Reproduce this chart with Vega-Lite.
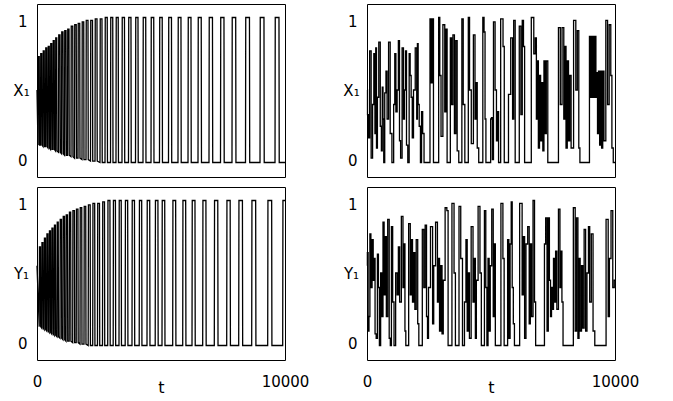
{
"$schema": "https://vega.github.io/schema/vega-lite/v6.json",
"background": "white",
"padding": {"left": 12, "top": 3, "right": 5, "bottom": 5},
"datasets": {
"xl": [{"t":0,"v":50},
{"t":40,"v":12},{"t":50,"v":73},{"t":90,"v":73},{"t":100,"v":12},
{"t":141,"v":12},{"t":151,"v":75},{"t":191,"v":75},{"t":201,"v":12},
{"t":242,"v":11},{"t":252,"v":77},{"t":292,"v":77},{"t":302,"v":11},
{"t":343,"v":11},{"t":353,"v":79},{"t":393,"v":79},{"t":403,"v":11},
{"t":444,"v":10},{"t":454,"v":80},{"t":494,"v":80},{"t":504,"v":10},
{"t":544,"v":9},{"t":554,"v":82},{"t":594,"v":82},{"t":604,"v":9},
{"t":645,"v":9},{"t":655,"v":84},{"t":695,"v":84},{"t":705,"v":9},
{"t":746,"v":8},{"t":756,"v":86},{"t":796,"v":86},{"t":806,"v":8},
{"t":867,"v":7},{"t":877,"v":88},{"t":927,"v":88},{"t":937,"v":7},
{"t":988,"v":6},{"t":998,"v":90},{"t":1048,"v":90},{"t":1058,"v":6},
{"t":1109,"v":5},{"t":1119,"v":91},{"t":1169,"v":91},{"t":1179,"v":5},
{"t":1230,"v":5},{"t":1240,"v":92},{"t":1290,"v":92},{"t":1300,"v":5},
{"t":1371,"v":4},{"t":1381,"v":94},{"t":1441,"v":94},{"t":1451,"v":4},
{"t":1512,"v":3},{"t":1522,"v":95},{"t":1582,"v":95},{"t":1592,"v":3},
{"t":1653,"v":3},{"t":1663,"v":96},{"t":1723,"v":96},{"t":1733,"v":3},
{"t":1814,"v":2},{"t":1824,"v":97},{"t":1884,"v":97},{"t":1894,"v":2},
{"t":1976,"v":2},{"t":1986,"v":98},{"t":2056,"v":98},{"t":2066,"v":2},
{"t":2157,"v":1},{"t":2167,"v":98},{"t":2237,"v":98},{"t":2247,"v":1},
{"t":2339,"v":1},{"t":2349,"v":99},{"t":2419,"v":99},{"t":2429,"v":1},
{"t":2540,"v":0},{"t":2550,"v":99},{"t":2620,"v":99},{"t":2630,"v":0},
{"t":2742,"v":0},{"t":2752,"v":100},{"t":2832,"v":100},{"t":2842,"v":0},
{"t":2964,"v":0},{"t":2974,"v":100},{"t":3054,"v":100},{"t":3064,"v":0},
{"t":3185,"v":0},{"t":3195,"v":100},{"t":3275,"v":100},{"t":3285,"v":0},
{"t":3427,"v":0},{"t":3437,"v":100},{"t":3527,"v":100},{"t":3537,"v":0},
{"t":3689,"v":0},{"t":3699,"v":100},{"t":3789,"v":100},{"t":3799,"v":0},
{"t":3972,"v":0},{"t":3982,"v":100},{"t":4072,"v":100},{"t":4082,"v":0},
{"t":4274,"v":0},{"t":4284,"v":100},{"t":4384,"v":100},{"t":4394,"v":0},
{"t":4597,"v":0},{"t":4607,"v":100},{"t":4707,"v":100},{"t":4717,"v":0},
{"t":4939,"v":0},{"t":4949,"v":100},{"t":5049,"v":100},{"t":5059,"v":0},
{"t":5302,"v":0},{"t":5312,"v":100},{"t":5422,"v":100},{"t":5432,"v":0},
{"t":5685,"v":0},{"t":5695,"v":100},{"t":5805,"v":100},{"t":5815,"v":0},
{"t":6089,"v":0},{"t":6099,"v":100},{"t":6209,"v":100},{"t":6219,"v":0},
{"t":6492,"v":0},{"t":6502,"v":100},{"t":6622,"v":100},{"t":6632,"v":0},
{"t":6935,"v":0},{"t":6945,"v":100},{"t":7075,"v":100},{"t":7085,"v":0},
{"t":7399,"v":0},{"t":7409,"v":100},{"t":7539,"v":100},{"t":7549,"v":0},
{"t":7862,"v":0},{"t":7872,"v":100},{"t":8012,"v":100},{"t":8022,"v":0},
{"t":8407,"v":0},{"t":8417,"v":100},{"t":8567,"v":100},{"t":8577,"v":0},
{"t":8992,"v":0},{"t":9002,"v":100},{"t":9152,"v":100},{"t":9162,"v":0},
{"t":9597,"v":0},{"t":9607,"v":100},{"t":9757,"v":100},{"t":9767,"v":0},
{"t":10000,"v":0}],
"yl": [{"t":0,"v":55},
{"t":89,"v":13},{"t":99,"v":68},{"t":139,"v":68},{"t":149,"v":13},
{"t":190,"v":12},{"t":200,"v":71},{"t":240,"v":71},{"t":250,"v":12},
{"t":290,"v":11},{"t":300,"v":74},{"t":340,"v":74},{"t":350,"v":11},
{"t":391,"v":10},{"t":401,"v":77},{"t":441,"v":77},{"t":451,"v":10},
{"t":492,"v":9},{"t":502,"v":79},{"t":542,"v":79},{"t":552,"v":9},
{"t":593,"v":8},{"t":603,"v":81},{"t":643,"v":81},{"t":653,"v":8},
{"t":694,"v":7},{"t":704,"v":83},{"t":744,"v":83},{"t":754,"v":7},
{"t":806,"v":6},{"t":816,"v":85},{"t":856,"v":85},{"t":866,"v":6},
{"t":927,"v":5},{"t":937,"v":87},{"t":987,"v":87},{"t":997,"v":5},
{"t":1048,"v":4},{"t":1058,"v":89},{"t":1108,"v":89},{"t":1118,"v":4},
{"t":1169,"v":3},{"t":1179,"v":90},{"t":1229,"v":90},{"t":1239,"v":3},
{"t":1298,"v":3},{"t":1308,"v":92},{"t":1358,"v":92},{"t":1368,"v":3},
{"t":1439,"v":2},{"t":1449,"v":93},{"t":1509,"v":93},{"t":1519,"v":2},
{"t":1581,"v":2},{"t":1591,"v":94},{"t":1651,"v":94},{"t":1661,"v":2},
{"t":1734,"v":1},{"t":1744,"v":95},{"t":1804,"v":95},{"t":1814,"v":1},
{"t":1895,"v":1},{"t":1905,"v":96},{"t":1965,"v":96},{"t":1975,"v":1},
{"t":2064,"v":0},{"t":2074,"v":97},{"t":2144,"v":97},{"t":2154,"v":0},
{"t":2246,"v":0},{"t":2256,"v":98},{"t":2326,"v":98},{"t":2336,"v":0},
{"t":2439,"v":0},{"t":2449,"v":98},{"t":2519,"v":98},{"t":2529,"v":0},
{"t":2641,"v":0},{"t":2651,"v":99},{"t":2721,"v":99},{"t":2731,"v":0},
{"t":2851,"v":0},{"t":2861,"v":100},{"t":2941,"v":100},{"t":2951,"v":0},
{"t":3072,"v":0},{"t":3082,"v":100},{"t":3162,"v":100},{"t":3172,"v":0},
{"t":3306,"v":0},{"t":3316,"v":100},{"t":3396,"v":100},{"t":3406,"v":0},
{"t":3556,"v":0},{"t":3566,"v":100},{"t":3656,"v":100},{"t":3666,"v":0},
{"t":3830,"v":0},{"t":3840,"v":100},{"t":3930,"v":100},{"t":3940,"v":0},
{"t":4121,"v":0},{"t":4131,"v":100},{"t":4221,"v":100},{"t":4231,"v":0},
{"t":4435,"v":0},{"t":4445,"v":100},{"t":4545,"v":100},{"t":4555,"v":0},
{"t":4766,"v":0},{"t":4776,"v":100},{"t":4876,"v":100},{"t":4886,"v":0},
{"t":5040,"v":0},{"t":5050,"v":100},{"t":5150,"v":100},{"t":5160,"v":0},
{"t":5471,"v":0},{"t":5481,"v":100},{"t":5591,"v":100},{"t":5601,"v":0},
{"t":5875,"v":0},{"t":5885,"v":100},{"t":5995,"v":100},{"t":6005,"v":0},
{"t":6250,"v":0},{"t":6260,"v":100},{"t":6370,"v":100},{"t":6380,"v":0},
{"t":6681,"v":0},{"t":6691,"v":100},{"t":6811,"v":100},{"t":6821,"v":0},
{"t":7149,"v":0},{"t":7159,"v":100},{"t":7289,"v":100},{"t":7299,"v":0},
{"t":7649,"v":0},{"t":7659,"v":100},{"t":7789,"v":100},{"t":7799,"v":0},
{"t":8133,"v":0},{"t":8143,"v":100},{"t":8283,"v":100},{"t":8293,"v":0},
{"t":8657,"v":0},{"t":8667,"v":100},{"t":8817,"v":100},{"t":8827,"v":0},
{"t":9302,"v":0},{"t":9312,"v":100},{"t":9462,"v":100},{"t":9472,"v":0},
{"t":9907,"v":0},{"t":9917,"v":100},{"t":10000,"v":100}],
"xr": [{"t":0,"v":50},{"t":40,"v":33},{"t":80,"v":17},{"t":134,"v":77},{"t":200,"v":3},{"t":250,"v":40},{"t":300,"v":75},{"t":340,"v":20},{"t":365,"v":79},{"t":400,"v":10},{"t":440,"v":45},{"t":510,"v":83},{"t":560,"v":25},{"t":600,"v":8},{"t":630,"v":52},{"t":660,"v":30},{"t":690,"v":0},{"t":740,"v":48},{"t":790,"v":63},{"t":830,"v":30},{"t":910,"v":83},{"t":960,"v":20},{"t":1050,"v":0},{"t":1100,"v":40},{"t":1140,"v":75},{"t":1190,"v":35},{"t":1240,"v":50},{"t":1290,"v":84},{"t":1330,"v":15},{"t":1380,"v":3},{"t":1450,"v":79},{"t":1490,"v":30},{"t":1530,"v":50},{"t":1575,"v":77},{"t":1610,"v":12},{"t":1680,"v":0},{"t":1720,"v":75},{"t":1760,"v":60},{"t":1800,"v":45},{"t":1850,"v":17},{"t":1900,"v":50},{"t":1990,"v":79},{"t":2020,"v":30},{"t":2045,"v":82},{"t":2080,"v":40},{"t":2130,"v":25},{"t":2180,"v":0},{"t":2220,"v":35},{"t":2270,"v":20},{"t":2330,"v":0},{"t":2520,"v":0},{"t":2560,"v":99},{"t":2620,"v":55},{"t":2660,"v":99},{"t":2700,"v":0},{"t":2870,"v":0},{"t":2910,"v":100},{"t":2960,"v":60},{"t":3010,"v":18},{"t":3110,"v":95},{"t":3160,"v":35},{"t":3200,"v":92},{"t":3260,"v":0},{"t":3330,"v":0},{"t":3390,"v":86},{"t":3430,"v":40},{"t":3500,"v":88},{"t":3550,"v":20},{"t":3610,"v":84},{"t":3660,"v":8},{"t":3740,"v":0},{"t":3800,"v":0},{"t":3850,"v":99},{"t":3910,"v":40},{"t":3980,"v":0},{"t":4060,"v":0},{"t":4110,"v":100},{"t":4160,"v":50},{"t":4250,"v":13},{"t":4330,"v":88},{"t":4380,"v":30},{"t":4420,"v":55},{"t":4470,"v":10},{"t":4540,"v":0},{"t":4640,"v":0},{"t":4700,"v":100},{"t":4740,"v":90},{"t":4780,"v":30},{"t":4810,"v":0},{"t":4970,"v":0},{"t":5000,"v":30},{"t":5040,"v":31},{"t":5070,"v":2},{"t":5130,"v":97},{"t":5200,"v":50},{"t":5240,"v":15},{"t":5280,"v":35},{"t":5330,"v":0},{"t":5450,"v":99},{"t":5520,"v":80},{"t":5550,"v":0},{"t":5670,"v":0},{"t":5740,"v":47},{"t":5850,"v":86},{"t":5890,"v":30},{"t":5940,"v":98},{"t":6010,"v":0},{"t":6100,"v":0},{"t":6180,"v":94},{"t":6230,"v":33},{"t":6290,"v":98},{"t":6330,"v":80},{"t":6380,"v":0},{"t":6560,"v":0},{"t":6690,"v":100},{"t":6760,"v":75},{"t":6810,"v":86},{"t":6850,"v":30},{"t":6890,"v":70},{"t":6930,"v":10},{"t":6980,"v":60},{"t":7020,"v":15},{"t":7070,"v":55},{"t":7110,"v":8},{"t":7160,"v":70},{"t":7200,"v":20},{"t":7260,"v":70},{"t":7320,"v":0},{"t":7670,"v":0},{"t":7770,"v":93},{"t":7820,"v":40},{"t":7910,"v":93},{"t":7960,"v":30},{"t":8000,"v":80},{"t":8050,"v":10},{"t":8100,"v":70},{"t":8150,"v":15},{"t":8200,"v":60},{"t":8260,"v":10},{"t":8400,"v":98},{"t":8440,"v":50},{"t":8520,"v":91},{"t":8560,"v":10},{"t":8610,"v":0},{"t":8940,"v":0},{"t":9000,"v":87},{"t":9040,"v":45},{"t":9080,"v":87},{"t":9120,"v":45},{"t":9160,"v":87},{"t":9200,"v":45},{"t":9220,"v":87},{"t":9240,"v":45},{"t":9280,"v":62},{"t":9310,"v":20},{"t":9360,"v":63},{"t":9400,"v":12},{"t":9440,"v":63},{"t":9480,"v":10},{"t":9530,"v":63},{"t":9580,"v":15},{"t":9680,"v":98},{"t":9720,"v":40},{"t":9810,"v":95},{"t":9850,"v":60},{"t":9900,"v":10},{"t":9960,"v":0},{"t":10000,"v":0}],
"yr": [{"t":0,"v":55},{"t":30,"v":64},{"t":60,"v":10},{"t":100,"v":20},{"t":134,"v":77},{"t":180,"v":40},{"t":230,"v":73},{"t":270,"v":45},{"t":310,"v":60},{"t":340,"v":8},{"t":400,"v":5},{"t":440,"v":63},{"t":480,"v":40},{"t":520,"v":0},{"t":580,"v":50},{"t":620,"v":20},{"t":670,"v":85},{"t":710,"v":35},{"t":760,"v":75},{"t":800,"v":20},{"t":870,"v":87},{"t":920,"v":5},{"t":960,"v":0},{"t":1010,"v":82},{"t":1060,"v":30},{"t":1120,"v":0},{"t":1190,"v":50},{"t":1240,"v":35},{"t":1290,"v":68},{"t":1340,"v":30},{"t":1430,"v":89},{"t":1470,"v":40},{"t":1510,"v":70},{"t":1550,"v":10},{"t":1580,"v":0},{"t":1640,"v":0},{"t":1720,"v":84},{"t":1770,"v":35},{"t":1810,"v":73},{"t":1860,"v":30},{"t":1910,"v":64},{"t":1950,"v":25},{"t":2020,"v":73},{"t":2070,"v":15},{"t":2110,"v":0},{"t":2190,"v":0},{"t":2270,"v":80},{"t":2310,"v":40},{"t":2380,"v":83},{"t":2420,"v":20},{"t":2460,"v":5},{"t":2500,"v":40},{"t":2620,"v":82},{"t":2670,"v":15},{"t":2710,"v":55},{"t":2820,"v":85},{"t":2860,"v":30},{"t":2900,"v":60},{"t":2950,"v":10},{"t":3000,"v":55},{"t":3050,"v":8},{"t":3100,"v":45},{"t":3200,"v":95},{"t":3240,"v":93},{"t":3300,"v":0},{"t":3360,"v":0},{"t":3490,"v":98},{"t":3530,"v":50},{"t":3600,"v":0},{"t":3660,"v":0},{"t":3760,"v":96},{"t":3800,"v":60},{"t":3900,"v":0},{"t":3960,"v":30},{"t":4020,"v":73},{"t":4060,"v":10},{"t":4110,"v":50},{"t":4150,"v":5},{"t":4250,"v":82},{"t":4300,"v":30},{"t":4350,"v":60},{"t":4390,"v":5},{"t":4430,"v":45},{"t":4530,"v":96},{"t":4580,"v":50},{"t":4640,"v":0},{"t":4700,"v":0},{"t":4770,"v":93},{"t":4810,"v":40},{"t":4860,"v":0},{"t":4900,"v":60},{"t":4950,"v":10},{"t":4990,"v":55},{"t":5070,"v":94},{"t":5110,"v":20},{"t":5150,"v":70},{"t":5200,"v":0},{"t":5340,"v":0},{"t":5460,"v":98},{"t":5500,"v":60},{"t":5560,"v":0},{"t":5640,"v":0},{"t":5700,"v":73},{"t":5740,"v":5},{"t":5800,"v":70},{"t":5830,"v":99},{"t":5880,"v":40},{"t":5920,"v":15},{"t":5970,"v":0},{"t":6080,"v":0},{"t":6230,"v":98},{"t":6280,"v":35},{"t":6330,"v":75},{"t":6380,"v":5},{"t":6440,"v":70},{"t":6520,"v":82},{"t":6560,"v":15},{"t":6610,"v":70},{"t":6660,"v":20},{"t":6730,"v":100},{"t":6780,"v":30},{"t":6820,"v":0},{"t":7130,"v":0},{"t":7180,"v":70},{"t":7230,"v":88},{"t":7290,"v":10},{"t":7330,"v":88},{"t":7380,"v":45},{"t":7420,"v":20},{"t":7460,"v":40},{"t":7500,"v":25},{"t":7540,"v":60},{"t":7580,"v":30},{"t":7630,"v":65},{"t":7680,"v":25},{"t":7760,"v":94},{"t":7800,"v":40},{"t":7840,"v":65},{"t":7880,"v":30},{"t":7930,"v":0},{"t":8270,"v":0},{"t":8370,"v":95},{"t":8420,"v":10},{"t":8480,"v":88},{"t":8530,"v":5},{"t":8570,"v":60},{"t":8620,"v":10},{"t":8680,"v":55},{"t":8720,"v":12},{"t":8790,"v":80},{"t":8840,"v":10},{"t":8900,"v":50},{"t":8960,"v":82},{"t":9000,"v":30},{"t":9090,"v":77},{"t":9140,"v":10},{"t":9230,"v":0},{"t":9580,"v":0},{"t":9700,"v":87},{"t":9750,"v":20},{"t":9800,"v":60},{"t":9880,"v":93},{"t":9940,"v":40},{"t":10000,"v":45}]
},
"columns": 2,
"spacing": {"row": 10, "column": 82},
"bounds": "flush",
"concat": [
{"width": 248, "height": 173, "data": {"name": "xl"},
 "mark": {"type": "line", "color": "black", "strokeWidth": 1.3},
 "encoding": {
  "x": {"field": "t", "type": "quantitative", "scale": {"domain": [0, 10000], "nice": false, "zero": false}, "axis": null},
  "y": {"field": "v", "type": "quantitative", "scale": {"domain": [-10, 109.3], "nice": false, "zero": false}, "axis": {"title": "X₁", "values": [1.7, 97.2], "labelExpr": "datum.value < 50 ? '0' : '1'"}}}},
{"width": 248, "height": 173, "data": {"name": "xr"},
 "mark": {"type": "line", "color": "black", "strokeWidth": 1.3, "interpolate": "step"},
 "encoding": {
  "x": {"field": "t", "type": "quantitative", "scale": {"domain": [0, 10000], "nice": false, "zero": false}, "axis": null},
  "y": {"field": "v", "type": "quantitative", "scale": {"domain": [-10, 109.3], "nice": false, "zero": false}, "axis": {"title": "X₁", "values": [1.7, 97.2], "labelExpr": "datum.value < 50 ? '0' : '1'"}}}},
{"width": 248, "height": 173, "data": {"name": "yl"},
 "mark": {"type": "line", "color": "black", "strokeWidth": 1.3},
 "encoding": {
  "x": {"field": "t", "type": "quantitative", "scale": {"domain": [0, 10000], "nice": false, "zero": false}, "axis": {"title": "t", "values": [0, 10000], "format": "d"}},
  "y": {"field": "v", "type": "quantitative", "scale": {"domain": [-10, 109.3], "nice": false, "zero": false}, "axis": {"title": "Y₁", "values": [1.7, 97.2], "labelExpr": "datum.value < 50 ? '0' : '1'"}}}},
{"width": 248, "height": 173, "data": {"name": "yr"},
 "mark": {"type": "line", "color": "black", "strokeWidth": 1.3, "interpolate": "step"},
 "encoding": {
  "x": {"field": "t", "type": "quantitative", "scale": {"domain": [0, 10000], "nice": false, "zero": false}, "axis": {"title": "t", "values": [0, 10000], "format": "d"}},
  "y": {"field": "v", "type": "quantitative", "scale": {"domain": [-10, 109.3], "nice": false, "zero": false}, "axis": {"title": "Y₁", "values": [1.7, 97.2], "labelExpr": "datum.value < 50 ? '0' : '1'"}}}}
],
"config": {
 "view": {"stroke": "black", "strokeWidth": 1},
 "axis": {"grid": false, "ticks": false, "domain": false, "labelFont": "DejaVu Sans", "labelFontSize": 15, "labelColor": "black", "titleFont": "DejaVu Sans", "titleFontSize": 15, "titleFontWeight": "normal", "titleColor": "black"},
 "axisY": {"labelPadding": 10, "titleAngle": 0, "titleAlign": "center", "titleBaseline": "middle", "titleX": -16, "titleY": 86},
 "axisX": {"labelPadding": 14, "labelFlush": false, "titleY": 32, "titleBaseline": "alphabetic", "titleFontSize": 16}
}
}
